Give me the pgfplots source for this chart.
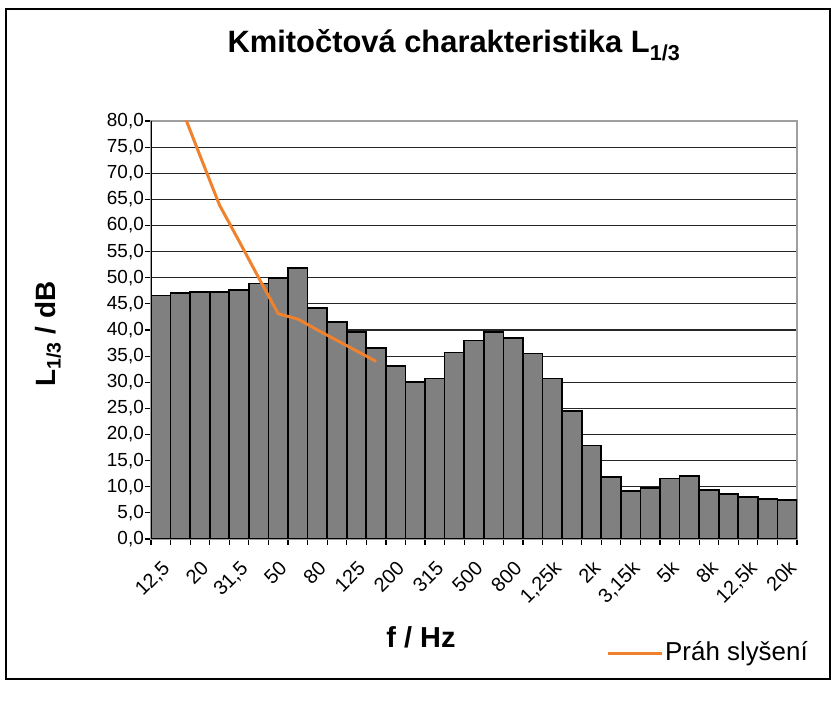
\documentclass[border=0pt]{standalone}
\usepackage{fontspec}
\setmainfont{Liberation Sans}
\usepackage{pgfplots}
\pgfplotsset{compat=1.18}
\usepackage{pgfplotstable}
\definecolor{barfill}{RGB}{128,128,128}
\definecolor{thr}{RGB}{240,130,45}
\pgfplotstableread{
x y
0 46.6
1 47.1
2 47.3
3 47.3
4 47.6
5 48.9
6 50.0
7 51.8
8 44.2
9 41.5
10 39.6
11 36.6
12 33.1
13 30.0
14 30.7
15 35.7
16 38.0
17 39.6
18 38.5
19 35.5
20 30.7
21 24.5
22 17.9
23 11.9
24 9.2
25 9.8
26 11.6
27 12.0
28 9.4
29 8.6
30 8.0
31 7.7
32 7.4
}\bars
\pgfplotstableread{
x y
0 92.5
1 83.0
2 73.4
3 63.9
4 57.0
5 50.0
6 43.1
7 42.1
8 40.0
9 38.0
10 36.0
11 34.0
}\prah
\begin{document}
\begin{tikzpicture}[x=1bp,y=1bp]
\path[use as bounding box] (0,0) rectangle (831,716);
\draw[line width=1.3bp] (6,37) rectangle (830,707);
\begin{axis}[
  at={(151bp,177bp)}, anchor=south west,
  scale only axis, width=646bp, height=418bp,
  xmin=-0.5, xmax=32.5, ymin=0, ymax=80,
  xtick={-0.5,0.5,...,32.5},
  xticklabels={},
  extra x ticks={0,2,...,32},
  extra x tick labels={{12,5},20,{31,5},50,80,125,200,315,500,800,{1,25k},2k,{3,15k},5k,8k,{12,5k},20k},
  extra x tick style={major tick length=0pt, grid=none,
    xticklabel style={rotate=45, anchor=north east, inner sep=1bp,
    font=\fontsize{20}{22}\selectfont}},
  xticklabel shift=19bp,
  ytick={0,5,...,80},
  major tick length=6bp,
  tick align=outside,
  tick pos=left,
  tick style={black, line width=1.2bp},
  ymajorgrids,
  grid style={black!85, line width=1.2bp},
  axis line style={draw=gray!75, line width=1.5bp},
  /pgf/number format/assume math mode=true,
  yticklabel style={/pgf/number format/.cd, fixed, fixed zerofill, precision=1, use comma,
    /tikz/.cd, inner sep=1bp, font=\fontsize{19}{21}\selectfont},
  yticklabel={\pgfmathprintnumber{\tick}},
]
\addplot[ybar, bar width=1, fill=barfill, draw=black, line width=1.7bp] table[x=x,y=y]{\bars};
\addplot[thr, line width=3bp, line join=round] table[x=x,y=y]{\prah};
\draw[black, line width=1.5bp] (rel axis cs:0,0) -- (rel axis cs:0,1);
\draw[black, line width=1.5bp] (rel axis cs:0,0) -- (rel axis cs:1,0);
\end{axis}
\node[font=\bfseries\fontsize{31}{33}\selectfont, anchor=base] at (454,663) {Kmitočtová charakteristika L\textsubscript{1/3}};
\node[font=\bfseries\fontsize{28}{30}\selectfont, rotate=90] at (48,382) {L\textsubscript{1/3} / dB};
\node[font=\bfseries\fontsize{29}{31}\selectfont] at (421,79) {f / Hz};
\draw[thr, line width=3bp] (608,62) -- (662,62);
\node[font=\fontsize{26}{28}\selectfont, anchor=west, inner sep=1bp] at (664,62) {Práh slyšení};
\end{tikzpicture}
\end{document}
